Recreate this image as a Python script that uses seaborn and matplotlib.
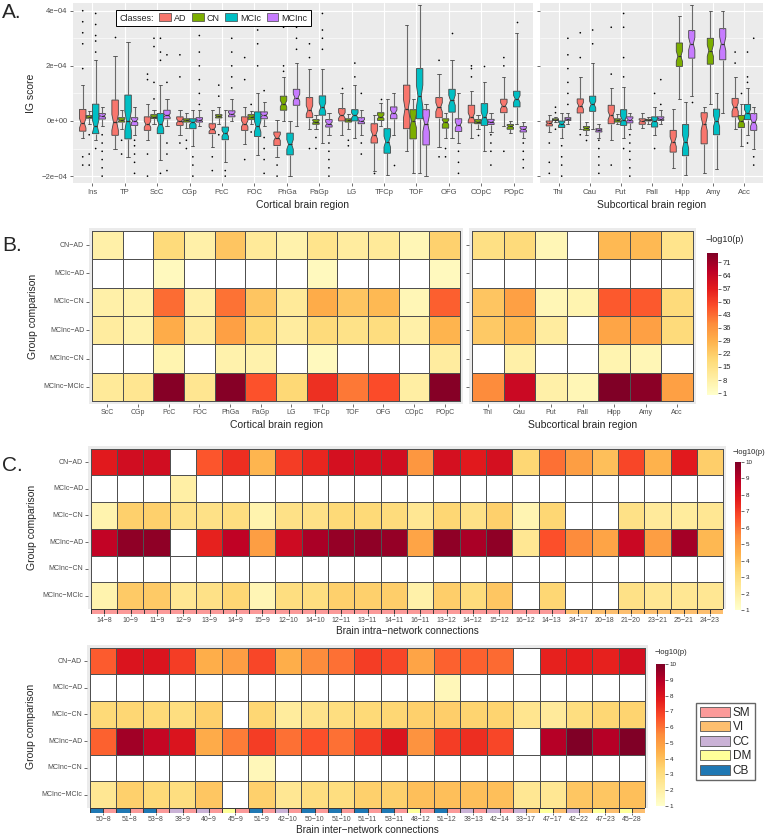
import numpy as np
import pandas as pd
import seaborn as sns
import matplotlib.pyplot as plt
from matplotlib.patches import Patch
from matplotlib.colors import ListedColormap
from matplotlib.ticker import FixedLocator

sns.set_theme(style="white")
plt.rcParams['font.family'] = ['Liberation Sans', 'DejaVu Sans']

MINUS = '\u2212'

# ================= panel A : IG score per region (units of 1e-04) =================
classes = ['AD', 'CN', 'MCIc', 'MCInc']
class_colors = ['#F8766D', '#7CAE00', '#00BFC4', '#C77CFF']
cortical = ['Ins', 'TP', 'ScC', 'CGp', 'PcC', 'FOC', 'PhGa', 'PaGp', 'LG', 'TFCp',
            'TOF', 'OFG', 'COpC', 'POpC']
subcortical = ['Thl', 'Cau', 'Put', 'Pall', 'Hipp', 'Amy', 'Acc']
regions = cortical + subcortical

# (lower whisker, q1, median, q3, upper whisker) for each region
ad_box = [(-0.6, -0.37, -0.08, 0.42, 1.3), (-1.0, -0.52, -0.05, 0.76, 2.35),
          (-0.7, -0.34, -0.12, 0.15, 0.6), (-0.5, -0.16, 0.0, 0.15, 0.4),
          (-0.95, -0.46, -0.3, -0.1, 0.4), (-0.85, -0.34, -0.1, 0.15, 0.5),
          (-1.3, -0.89, -0.6, -0.4, 0.05), (-0.3, 0.12, 0.4, 0.85, 1.9),
          (-0.5, 0.0, 0.2, 0.45, 1.0), (-1.8, -0.8, -0.5, -0.1, 0.2),
          (-1.1, -0.28, 0.45, 1.3, 3.5), (-0.95, 0.12, 0.5, 0.85, 1.7),
          (-0.6, -0.07, 0.15, 0.57, 1.1), (-0.2, 0.3, 0.55, 0.79, 1.6),
          (-0.4, -0.18, -0.08, 0.0, 0.2), (-0.3, 0.29, 0.55, 0.8, 1.6),
          (-0.7, -0.1, 0.2, 0.57, 1.2), (-0.25, -0.12, 0.0, 0.08, 0.3),
          (-1.7, -1.13, -0.75, -0.34, 0.45), (-1.9, -0.83, -0.1, 0.3, 0.5),
          (-0.3, 0.15, 0.5, 0.82, 1.6)]
cn_box = [(-0.1, 0.1, 0.15, 0.2, 0.35), (-0.3, -0.04, 0.03, 0.12, 0.4),
          (-0.1, 0.09, 0.15, 0.23, 0.4), (-0.25, -0.04, 0.02, 0.08, 0.3),
          (-0.1, 0.11, 0.17, 0.23, 0.5), (-0.1, 0.06, 0.15, 0.23, 0.35),
          (0.0, 0.39, 0.63, 0.9, 1.6), (-0.3, -0.12, -0.03, 0.05, 0.2),
          (-0.3, -0.04, 0.03, 0.08, 0.25), (-0.2, 0.02, 0.15, 0.3, 0.65),
          (-1.9, -0.65, 0.0, 0.41, 0.8), (-0.6, -0.26, -0.05, 0.08, 0.3),
          (-0.3, -0.1, -0.02, 0.05, 0.2), (-0.45, -0.3, -0.2, -0.13, 0.0),
          (-0.05, 0.02, 0.05, 0.08, 0.15), (-0.5, -0.34, -0.27, -0.2, -0.05),
          (-0.1, -0.04, 0.03, 0.08, 0.25), (-0.1, 0.0, 0.03, 0.06, 0.15),
          (0.8, 1.98, 2.35, 2.83, 3.8), (0.6, 2.06, 2.55, 3.0, 4.0),
          (-0.9, -0.24, 0.0, 0.2, 0.6)]
mcic_box = [(-0.7, -0.46, -0.2, 0.61, 2.2), (-1.3, -0.65, 0.0, 0.94, 2.85),
            (-1.4, -0.46, -0.12, 0.27, 1.3), (-0.9, -0.28, -0.05, 0.08, 0.4),
            (-1.5, -0.68, -0.45, -0.22, 0.4), (-1.25, -0.56, -0.2, 0.33, 1.0),
            (-2.0, -1.23, -0.85, -0.44, 0.0), (-0.8, 0.21, 0.5, 0.91, 1.9),
            (-0.6, 0.0, 0.2, 0.41, 1.3), (-1.95, -1.17, -0.75, -0.28, 0.8),
            (-1.9, 0.08, 0.9, 1.9, 4.2), (-0.6, 0.32, 0.75, 1.15, 2.2),
            (-1.1, -0.16, 0.15, 0.63, 1.4), (-0.1, 0.51, 0.8, 1.08, 3.2),
            (-0.6, -0.24, -0.1, 0.0, 0.3), (-0.3, 0.35, 0.6, 0.9, 2.1),
            (-0.6, -0.16, 0.05, 0.41, 1.25), (-0.5, -0.22, 0.0, 0.15, 0.5),
            (-1.95, -1.26, -0.75, -0.13, 0.7), (-1.75, -0.5, 0.0, 0.43, 1.0),
            (-0.5, 0.05, 0.3, 0.6, 1.2)]
mcinc_box = [(-0.2, 0.07, 0.18, 0.27, 0.5), (-0.5, -0.16, 0.0, 0.12, 0.5),
             (-0.2, 0.08, 0.2, 0.39, 0.8), (-0.2, -0.04, 0.03, 0.12, 0.4),
             (0.0, 0.15, 0.25, 0.37, 0.8), (-0.2, 0.08, 0.2, 0.33, 0.7),
             (-0.2, 0.57, 0.85, 1.15, 2.1), (-0.5, -0.22, -0.1, 0.05, 0.3),
             (-0.5, -0.1, 0.0, 0.12, 0.4), (-0.5, 0.08, 0.3, 0.51, 1.0),
             (-2.0, -0.87, -0.1, 0.41, 0.6), (-0.8, -0.38, -0.15, 0.08, 1.0),
             (-0.4, -0.13, -0.03, 0.06, 0.3), (-0.6, -0.4, -0.3, -0.2, -0.05),
             (-0.1, 0.02, 0.07, 0.12, 0.3), (-0.6, -0.4, -0.33, -0.28, -0.1),
             (-0.3, -0.07, 0.05, 0.15, 0.3), (-0.1, 0.02, 0.08, 0.15, 0.4),
             (0.9, 2.28, 2.8, 3.28, 4.2), (0.3, 2.22, 2.8, 3.35, 4.0),
             (-1.0, -0.34, -0.05, 0.27, 0.5)]

# outlying points (units of 1e-04)
ad_out = {'Ins': [1.9, 2.8, 3.2, 3.6, 4.0, -1.3, -1.6], 'TP': [3.05],
          'ScC': [1.5, 1.7, -1.2, -2.0], 'CGp': [1.6, 2.4, -0.8], 'PcC': [-1.3, -1.8],
          'FOC': [1.5, 2.3, -1.4], 'PhGa': [-1.6, -2.0], 'PaGp': [2.3, 2.8, -1.0],
          'LG': [1.2], 'TFCp': [-1.9], 'OFG': [2.2, -1.3], 'COpC': [1.6, 1.9, 2.0],
          'POpC': [2.0, 2.3, -1.1], 'Thl': [-0.8, -1.5, -1.9], 'Cau': [2.3, 3.2, -0.5],
          'Put': [1.7, 3.4, -1.6], 'Acc': [2.1, 2.5]}
cn_out = {'Ins': [-0.5, -1.2, -1.6], 'TP': [-0.7, -1.2], 'ScC': [0.8, 1.4, 2.7, 3.0],
          'CGp': [-0.7, -1.0], 'PcC': [0.9, 1.3, -0.5], 'FOC': [0.6, -0.4],
          'PhGa': [1.8, 2.0, 3.4], 'PaGp': [-0.6, -1.0], 'LG': [-0.7, -0.9],
          'TFCp': [0.8], 'OFG': [-1.0, -1.3], 'COpC': [-0.5], 'Thl': [0.3, 0.5, -0.3],
          'Cau': [-0.7], 'Acc': [1.0]}
mcic_out = {'Ins': [2.5, 2.9, 3.1, 3.5, 3.9, -1.0], 'ScC': [2.2, 2.5, 3.0, -1.9],
            'CGp': [-1.3, -1.6, -2.0], 'PcC': [-1.8, -2.0], 'FOC': [2.0, 2.8, 3.3],
            'PaGp': [2.6, 3.0, 3.3, 3.9], 'LG': [1.6, 2.1], 'OFG': [3.2], 'COpC': [2.0],
            'POpC': [3.6], 'Thl': [-0.9, -1.3, -1.6, -2.0], 'Cau': [2.8, 3.3],
            'Put': [1.6, 2.3, 3.4, 3.9, -1.0], 'Pall': [1.0, -1.0],
            'Acc': [1.4, 1.6, 2.5, -0.8]}
mcinc_out = {'Ins': [-0.5, -0.8, -1.1, -1.4, -1.7, -2.0], 'TP': [-0.7, -0.9, -1.2, -1.5, -1.9],
             'ScC': [1.4, 2.4, -0.8, -1.2, -1.8], 'CGp': [0.6, 1.0, 1.5, 2.0, 2.5, 3.1],
             'PcC': [1.2, 1.6, 2.0, 2.5, 3.0, 3.7], 'FOC': [1.1, -0.6, -1.0, -1.4, -1.9],
             'PhGa': [2.6, 3.0, 3.4], 'PaGp': [-0.8, -1.1, -1.4, -1.7, -2.0],
             'LG': [1.0, -0.8, -1.2], 'TFCp': [-1.6], 'OFG': [-1.1, -1.5, -1.9],
             'COpC': [-0.5, -0.8, -1.1, -1.6], 'POpC': [-0.8, -1.1, -1.4, -1.7],
             'Thl': [0.6, 1.0, 1.4, 1.9, 2.4, 3.0], 'Cau': [-0.7, -1.0, -1.3, -1.6, -1.9],
             'Put': [-0.5, -0.8, -1.1, -1.4, -1.7, -2.0], 'Pall': [0.6, 1.5],
             'Hipp': [0.7], 'Acc': [3.0, -1.3, -1.6]}

# ================= panel B : region-level -log10(p) =================
comparisons = ['CN-AD', 'MCIc-AD', 'MCIc-CN', 'MCInc-AD', 'MCInc-CN', 'MCInc-MCIc']
nan = np.nan
b_cortical = ['ScC', 'CGp', 'PcC', 'FOC', 'PhGa', 'PaGp', 'LG', 'TFCp', 'TOF', 'OFG',
              'COpC', 'POpC']
b_cort_logp = [
    [8, nan, 18, 8, 24, 11, 7, 14, 10, 11, 5, 21],
    [nan, nan, 3, nan, nan, nan, nan, 3, nan, nan, nan, 3],
    [8, 7, 43, 8, 42, 24, 11, 30, 24, 27, 5, 45],
    [10, 7, 30, 10, 33, 19, 10, 18, 15, 17, 8, 28],
    [nan, nan, 6, nan, 7, 7, nan, 3, nan, nan, nan, 10],
    [11, 13, 75, 13, 75, 47, 19, 53, 41, 48, 9, 75],
]
b_subcortical = ['Thl', 'Cau', 'Put', 'Pall', 'Hipp', 'Amy', 'Acc']
b_sub_logp = [
    [16, 18, 5, nan, 27, 27, 14],
    [nan, nan, nan, nan, nan, nan, nan],
    [24, 33, 5, 6, 46, 46, 18],
    [23, 27, 10, nan, 32, 33, 18],
    [nan, 8, nan, nan, 6, 5, nan],
    [38, 63, 8, 5, 76, 74, 33],
]
b_ticks = [1, 8, 15, 22, 29, 36, 43, 50, 57, 64, 71]

# ================= panel C : connection-level -log10(p) =================
intra_conn = ['14-8', '10-9', '11-9', '12-9', '13-9', '14-9', '15-9', '12-10', '14-10',
              '12-11', '13-11', '14-11', '16-11', '13-12', '14-12', '15-12', '16-12',
              '14-13', '24-17', '20-18', '21-20', '23-21', '25-21', '24-23']
intra_logp = [
    [7.8, 8.3, 8.3, nan, 6.5, 7.3, 4.3, 7.0, 7.5, 8.2, 8.2, 8.3,
     5.2, 8.2, 7.8, 8.2, 3.3, 6.0, 5.0, 4.0, 6.8, 4.4, 7.8, 3.6],
    [nan, nan, nan, 2.0, nan, nan, nan, nan, nan, nan, nan, nan,
     nan, nan, nan, nan, nan, nan, nan, nan, nan, nan, nan, nan],
    [1.8, 3.5, 3.5, 2.8, 2.8, 3.0, 1.8, 2.8, 2.8, 3.2, 3.2, 3.1,
     2.5, 3.3, 2.8, 3.5, 1.7, 3.3, nan, nan, 2.8, 2.3, 2.2, 2.5],
    [8.7, 9.7, 9.7, nan, 7.6, 8.8, 5.0, 8.4, 9.2, 9.6, 9.7, 9.6,
     4.8, 9.7, 9.2, 9.7, 2.5, 6.6, 5.5, 4.8, 8.5, 5.0, 9.3, 4.2],
    [nan] * 24,
    [1.8, 3.7, 3.7, 2.5, 2.8, 3.3, 1.6, 3.0, 3.0, 3.5, 3.5, 3.6,
     1.9, 3.6, 3.1, 3.8, nan, 3.3, nan, nan, 2.8, 2.5, 2.5, 2.5],
]
inter_conn = ['50-8', '51-8', '53-8', '38-9', '40-9', '45-9', '51-9', '42-10', '50-10',
              '51-10', '51-11', '53-11', '48-12', '51-12', '38-13', '42-14', '33-17',
              '47-17', '42-22', '47-23', '45-28']
inter_logp = [
    [6.4, 8.0, 8.0, 7.0, 4.5, 5.0, 6.8, 4.5, 5.5, 6.0, 7.0, 6.8, 4.8, 6.3, 6.3, 6.1,
     nan, 7.6, 7.7, 7.6, 8.2],
    [nan, nan, nan, nan, nan, nan, nan, nan, nan, nan, nan, nan, nan, 1.5, nan, nan,
     nan, nan, nan, nan, nan],
    [3.2, 3.3, 3.2, 3.0, 3.5, nan, 3.3, 2.2, 2.7, 3.0, 3.2, 3.3, 3.5, 3.6, 3.4, 3.4,
     2.6, 2.3, 3.0, 3.3, 3.4],
    [6.3, 9.4, 8.6, 8.0, 4.6, 5.8, 7.0, 6.0, 6.6, 6.0, 7.0, 8.0, 5.3, 7.0, 7.3, 6.8,
     nan, 9.0, 10.0, 9.0, 10.0],
    [nan, nan, nan, nan, nan, nan, 1.5, nan, nan, nan, nan, nan, nan, nan, nan, nan,
     nan, nan, nan, nan, nan],
    [2.5, 3.5, 3.2, 3.0, 3.8, nan, 3.5, 2.5, 3.0, 3.0, 3.5, 3.5, 4.0, 4.0, 4.0, 4.0,
     2.5, 2.5, 3.8, 3.8, 4.0],
]
c_ticks = list(range(1, 11))

network_names = ['SM', 'VI', 'CC', 'DM', 'CB']
network_colors = ['#FB9A99', '#FDBF6F', '#CAB2D6', '#FFFF99', '#1F78B4']
node_network = {}
for n in range(8, 17):
    node_network[n] = 'SM'
for n in [17, 18, 20, 21, 22, 23, 24, 25, 28]:
    node_network[n] = 'VI'
for n in [33, 38, 40, 42]:
    node_network[n] = 'CC'
for n in [45, 47, 48]:
    node_network[n] = 'DM'
for n in [50, 51, 53]:
    node_network[n] = 'CB'

# ---------------------------------------------------------------------------
W, H = 768, 835
fig = plt.figure(figsize=(W / 100, H / 100), dpi=100)
GREY_TXT = '#4D4D4D'


def px_axes(x0, y0, x1, y1):
    return fig.add_axes([x0 / W, 1 - y1 / H, (x1 - x0) / W, (y1 - y0) / H])


def lab(s):
    return s.replace('-', MINUS)


# long tables for the boxplots
rows = []
for cls, boxes in zip(classes, [ad_box, cn_box, mcic_box, mcinc_box]):
    for reg, st in zip(regions, boxes):
        # each summary value repeated so the notch size comes out like the original
        for v in np.repeat(st, 10):
            rows.append((reg, cls, v))
box_df = pd.DataFrame(rows, columns=['region', 'cls', 'ig'])

rows = []
for cls, outs in zip(classes, [ad_out, cn_out, mcic_out, mcinc_out]):
    for reg, vals in outs.items():
        for v in vals:
            rows.append((reg, cls, v))
out_df = pd.DataFrame(rows, columns=['region', 'cls', 'ig'])


def draw_boxes(ax, order, xlabel, show_y):
    sub = box_df[box_df.region.isin(order)]
    sns.boxplot(data=sub, x='region', y='ig', hue='cls', order=order, hue_order=classes,
                palette=class_colors, saturation=1, width=0.8, whis=(0, 100),
                fliersize=0, linewidth=0.6, linecolor='#454545', notch=True,
                legend=False, ax=ax,
                whiskerprops={'color': '#6a6a6a', 'linewidth': 0.8},
                medianprops={'color': '#333333', 'linewidth': 0.9})
    sns.stripplot(data=out_df[out_df.region.isin(order)], x='region', y='ig', hue='cls',
                  order=order, hue_order=classes, palette={c: 'black' for c in classes},
                  dodge=True, jitter=False, size=1.2, linewidth=0, legend=False, ax=ax)
    ax.set_facecolor('#EBEBEB')
    ax.set_xlim(-0.6, len(order) - 0.4)
    ax.set_ylim(-2.25, 4.28)
    ax.set_yticks([-2, 0, 2, 4])
    ax.yaxis.set_minor_locator(FixedLocator([-1, 1, 3]))
    ax.set_axisbelow(True)
    ax.grid(True, which='major', color='white', linewidth=0.8)
    ax.grid(True, which='minor', axis='y', color='white', linewidth=0.4)
    for s in ax.spines.values():
        s.set_visible(False)
    ax.tick_params(axis='both', which='major', length=2.5, width=0.5, color='#333333',
                   labelsize=5.5, labelcolor=GREY_TXT, left=True, bottom=True, pad=1.5)
    ax.tick_params(axis='y', which='minor', length=0)
    if show_y:
        ax.set_yticklabels([lab(f"{v * 1e-4:.0e}") for v in [-2, 0, 2, 4]])
        ax.set_ylabel('IG score', fontsize=7.5, labelpad=4)
    else:
        ax.set_yticklabels([])
        ax.set_ylabel('')
    ax.set_xlabel(xlabel, fontsize=7.5, labelpad=3)


axA1 = px_axes(73, 3, 533, 183)
axA2 = px_axes(540, 3, 763, 183)
draw_boxes(axA1, cortical, 'Cortical brain region', True)
draw_boxes(axA2, subcortical, 'Subcortical brain region', False)

handles = [Patch(facecolor=c, edgecolor='#454545', linewidth=0.5) for c in class_colors]
leg = axA1.legend(handles, classes, title='Classes:', ncol=4, loc='upper center',
                  bbox_to_anchor=(0.305, 0.985), fontsize=6.5, title_fontsize=6.5,
                  handlelength=1.3, handleheight=1.0, handletextpad=0.35,
                  columnspacing=0.6, borderpad=0.35, fancybox=False, framealpha=1,
                  edgecolor='black')
leg.get_frame().set_linewidth(0.7)
# move the legend title to the left of the keys, as ggplot does
lbox = leg.get_children()[0]
title_box, entries = lbox.get_children()
lbox._children = [entries]
entries._children = [title_box] + entries.get_children()

# ---------------- heatmaps ----------------
heat_cmap = plt.get_cmap('YlOrRd').copy()
heat_cmap.set_bad('white')


def draw_heat(ax, values, cols, vmin, vmax, cax=None, ticks=None, ylabels=True,
              xlabels=True, pad_bottom=True):
    df = pd.DataFrame(np.array(values, dtype=float), index=comparisons, columns=cols)
    sns.heatmap(df, ax=ax, cmap=heat_cmap, vmin=vmin, vmax=vmax, linewidths=0.5,
                linecolor='#505050', cbar=cax is not None, cbar_ax=cax,
                cbar_kws={'ticks': ticks} if cax is not None else None)
    ax.set_facecolor('#EBEBEB')
    pad = 0.1
    ax.set_xlim(-pad, len(cols) + pad)
    ax.set_ylim(len(comparisons) + (pad if pad_bottom else 0), -pad)
    ax.set_yticks(np.arange(len(comparisons)) + 0.5)
    if ylabels:
        ax.set_yticklabels([lab(c) for c in comparisons], rotation=0)
        ax.set_ylabel('Group comparison', fontsize=7.5, labelpad=4)
    else:
        ax.set_yticklabels([])
        ax.set_ylabel('')
    if xlabels:
        ax.set_xticks(np.arange(len(cols)) + 0.5)
        ax.set_xticklabels(cols, rotation=0)
    else:
        ax.set_xticks([])
        ax.set_xlabel('')
    ax.tick_params(axis='both', length=2, width=0.5, color='#333333', labelsize=5,
                   labelcolor=GREY_TXT, left=True, bottom=xlabels, pad=1.5)
    if cax is not None:
        cb = ax.collections[0].colorbar
        cb.outline.set_visible(False)
        cax.tick_params(labelsize=5.5, length=2, width=0.5, color='#333333', pad=1.5)


def draw_strip(ax, conns, xlabel):
    codes = []
    for c in conns:
        a, b = c.split('-')
        codes += [network_names.index(node_network[int(a)]),
                  network_names.index(node_network[int(b)])]
    sns.heatmap(np.array([codes]), ax=ax, cmap=ListedColormap(network_colors),
                vmin=-0.5, vmax=len(network_names) - 0.5, cbar=False,
                linewidths=0.4, linecolor='#3a3a3a')
    ax.set_yticks([])
    ax.set_xticks(np.arange(len(conns)) * 2 + 1)
    ax.set_xticklabels([lab(c) for c in conns], rotation=0)
    ax.tick_params(axis='x', length=1.5, width=0.5, color='#333333', labelsize=5,
                   labelcolor=GREY_TXT, bottom=True, pad=1.2)
    ax.set_xlabel(lab(xlabel), fontsize=7.2, labelpad=1)


# B
axB1 = px_axes(89, 228, 463, 404)
axB2 = px_axes(469, 228, 696, 404)
caxB = px_axes(707, 253, 718, 395)
draw_heat(axB1, b_cort_logp, b_cortical, 0, 76)
draw_heat(axB2, b_sub_logp, b_subcortical, 0, 76, cax=caxB, ticks=b_ticks, ylabels=False)
axB1.set_xlabel('Cortical brain region', fontsize=7.5, labelpad=3)
axB2.set_xlabel('Subcortical brain region', fontsize=7.5, labelpad=3)
fig.text(706 / W, 1 - 239 / H, lab('-log10(p)'), fontsize=6.5, va='center', ha='left')

# C intra
axC1 = px_axes(88, 446, 726, 609)
stripC1 = px_axes(91, 609, 723, 613.5)
caxC1 = px_axes(735, 462, 741, 610)
draw_heat(axC1, intra_logp, intra_conn, 1, 10, cax=caxC1, ticks=c_ticks, xlabels=False,
          pad_bottom=False)
caxC1.tick_params(labelsize=4.5)
draw_strip(stripC1, intra_conn, 'Brain intra-network connections')
fig.text(733 / W, 1 - 452 / H, lab('-log10(p)'), fontsize=5.5, va='center', ha='left')

# C inter
axC2 = px_axes(87, 645, 648, 808)
stripC2 = px_axes(90, 808, 645, 812.5)
caxC2 = px_axes(656, 664, 665, 806)
draw_heat(axC2, inter_logp, inter_conn, 1, 10, cax=caxC2, ticks=c_ticks, xlabels=False,
          pad_bottom=False)
caxC2.tick_params(labelsize=4.5)
draw_strip(stripC2, inter_conn, 'Brain inter-network connections')
fig.text(655 / W, 1 - 653 / H, lab('-log10(p)'), fontsize=5.5, va='center', ha='left')

net_handles = [Patch(facecolor=c, edgecolor='#555555', linewidth=0.6) for c in network_colors]
fig.legend(net_handles, network_names, loc='upper left',
           bbox_to_anchor=(696 / W, 1 - 703 / H), fontsize=8.5, handlelength=2.6,
           handleheight=0.95, handletextpad=0.2, labelspacing=0.2, borderpad=0.3,
           borderaxespad=0, fancybox=False, framealpha=1, edgecolor='#666666')

# panel letters
fig.text(2 / W, 1 - 3 / H, 'A.', fontsize=15, va='top', ha='left')
fig.text(2 / W, 1 - 236 / H, 'B.', fontsize=15, va='top', ha='left')
fig.text(2 / W, 1 - 456 / H, 'C.', fontsize=15, va='top', ha='left')

fig.savefig('out.png', dpi=100)
